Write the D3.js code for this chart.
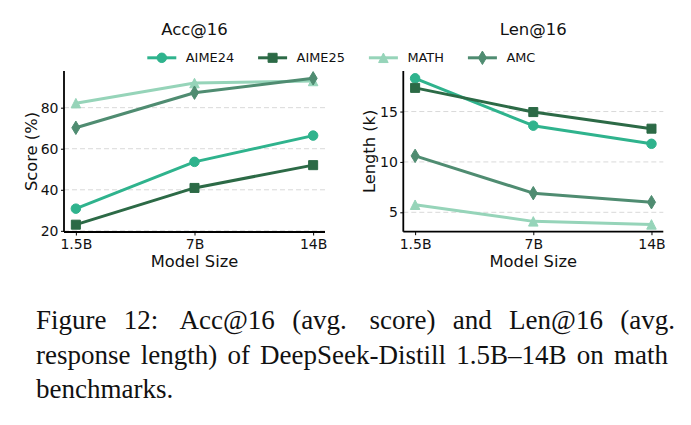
<!DOCTYPE html>
<html><head><meta charset="utf-8">
<script src="https://cdn.jsdelivr.net/npm/d3@7"></script>
<style>body{margin:0;background:#fff} svg{display:block}</style>
</head><body>
<svg id="c" width="691" height="425"></svg>
<script>
// ---- data ----
const models = ["1.5B", "7B", "14B"];
const seriesNames = ["AIME24", "AIME25", "MATH", "AMC"];
const accAIME24 = [30.8, 53.6, 66.4];
const accAIME25 = [23.0, 40.9, 52.0];
const accMATH   = [82.2, 92.0, 93.0];
const accAMC    = [70.2, 87.3, 94.3];
const lenAIME24 = [18.3, 13.6, 11.8];
const lenAIME25 = [17.35, 14.95, 13.3];
const lenMATH   = [5.75, 4.1, 3.8];
const lenAMC    = [10.6, 6.9, 6.0];
const accTicks = [20, 40, 60, 80];
const lenTicks = [5, 10, 15];
const captionLines = [
  "Figure 12:\u2009 Acc@16 (avg.\u2009 score) and Len@16 (avg.",
  "response length) of DeepSeek-Distill 1.5B\u201314B on math",
  "benchmarks."
];

const colors = {AIME24: "#2fb38d", AIME25: "#2c6a46", MATH: "#96d4b9", AMC: "#4f8c71"};
const shapes = {AIME24: "circle", AIME25: "square", MATH: "triangle", AMC: "diamond"};
const MS = 9.5;

function markerPath(shape) {
  const h = MS / 2;
  if (shape === "circle") return d3.arc()({innerRadius: 0, outerRadius: h, startAngle: 0, endAngle: 2 * Math.PI});
  if (shape === "square") { const s = h * 0.95; return `M${-s},${-s}H${s}V${s}H${-s}Z`; }
  if (shape === "triangle") return `M0,${-h}L${h},${h}L${-h},${h}Z`;
  if (shape === "diamond") { const w = 0.85 * h, t = 1.414 * h; return `M0,${-t}L${w},0L0,${t}L${-w},0Z`; }
}

const svg = d3.select("#c");
const font = "DejaVu Sans, Verdana, sans-serif";

function panel(opts) {
  const {x0, x1, y0, y1, series, ticks, title, ylabel, ylabelX, tickFmt} = opts;
  const all = series.flatMap(s => s.values);
  const mn = d3.min(all), mx = d3.max(all), pad = (mx - mn) * 0.05;
  const x = d3.scaleLinear().domain([-0.1, 2.1]).range([x0, x1]);
  const y = d3.scaleLinear().domain([mn - pad, mx + pad]).range([y1, y0]);
  const g = svg.append("g");

  // grid
  g.append("g").selectAll("line").data(ticks).join("line")
    .attr("x1", x0).attr("x2", x1)
    .attr("y1", d => y(d)).attr("y2", d => y(d))
    .attr("stroke", "#d9d9d9").attr("stroke-width", 1).attr("stroke-dasharray", "5,3");

  // axes
  const ax = g.append("g").attr("transform", `translate(0,${y1})`)
    .call(d3.axisBottom(x).tickValues([0, 1, 2]).tickFormat(i => models[i]).tickSize(3.5).tickPadding(3.5));
  const ay = g.append("g").attr("transform", `translate(${x0},0)`)
    .call(d3.axisLeft(y).tickValues(ticks).tickFormat(tickFmt).tickSize(3).tickPadding(2.5));
  [ax, ay].forEach(a => {
    a.selectAll(".domain").remove();
    a.selectAll("text").attr("font-family", font).attr("font-size", 14).attr("fill", "#111");
    a.selectAll(".tick line").attr("stroke", "#000").attr("stroke-width", 1);
  });
  g.append("line").attr("x1", x0).attr("x2", x1).attr("y1", y1).attr("y2", y1).attr("stroke", "#000").attr("stroke-width", 1.8);
  g.append("line").attr("x1", x0).attr("x2", x0).attr("y1", y0).attr("y2", y1).attr("stroke", "#000").attr("stroke-width", 1.8);

  // series
  const line = d3.line().x((d, i) => x(i)).y(d => y(d));
  series.forEach(s => {
    const sg = g.append("g");
    sg.append("path").attr("d", line(s.values)).attr("fill", "none")
      .attr("stroke", colors[s.name]).attr("stroke-width", 3).attr("stroke-linejoin", "round");
    sg.selectAll("path.m").data(s.values).join("path").attr("class", "m")
      .attr("d", markerPath(shapes[s.name]))
      .attr("transform", (d, i) => `translate(${x(i)},${y(d)})`)
      .attr("fill", colors[s.name]).attr("stroke", colors[s.name]).attr("stroke-width", 1);
  });

  // labels
  g.append("text").attr("x", (x0 + x1) / 2).attr("y", 35).attr("text-anchor", "middle")
    .attr("font-family", font).attr("font-size", 16.5).attr("fill", "#111").text(title);
  g.append("text").attr("x", (x0 + x1) / 2).attr("y", 266.5).attr("text-anchor", "middle")
    .attr("font-family", font).attr("font-size", 16.3).attr("fill", "#111").text("Model Size");
  g.append("text").attr("transform", `translate(${ylabelX},${(y0 + y1) / 2}) rotate(-90)`)
    .attr("text-anchor", "middle").attr("font-family", font).attr("font-size", 16.3).attr("fill", "#111").text(ylabel);
}

panel({x0: 64, x1: 325, y0: 71, y1: 232, title: "Acc@16", ylabel: "Score (%)", ylabelX: 36.5,
  ticks: accTicks, tickFmt: d3.format("d"),
  series: [{name: "AIME24", values: accAIME24}, {name: "AIME25", values: accAIME25},
           {name: "MATH", values: accMATH}, {name: "AMC", values: accAMC}]});
panel({x0: 403.3, x1: 663.3, y0: 71, y1: 231.7, title: "Len@16", ylabel: "Length (k)", ylabelX: 374.5,
  ticks: lenTicks, tickFmt: d3.format("d"),
  series: [{name: "AIME24", values: lenAIME24}, {name: "AIME25", values: lenAIME25},
           {name: "MATH", values: lenMATH}, {name: "AMC", values: lenAMC}]});

// legend
const lg = svg.append("g");
let lx = 147.3; const ly = 57.8;
seriesNames.forEach(n => {
  lg.append("line").attr("x1", lx).attr("x2", lx + 29).attr("y1", ly).attr("y2", ly)
    .attr("stroke", colors[n]).attr("stroke-width", 3);
  lg.append("path").attr("d", markerPath(shapes[n])).attr("transform", `translate(${lx + 14.5},${ly})`)
    .attr("fill", colors[n]).attr("stroke", colors[n]).attr("stroke-width", 1);
  const t = lg.append("text").attr("x", lx + 38.5).attr("y", ly).attr("dy", "0.36em")
    .attr("font-family", font).attr("font-size", 12.9).attr("fill", "#111").text(n);
  lx += 38.5 + t.node().getComputedTextLength() + 24;
});

// caption
const targets = [639, 632, null];
const baselines = [329, 363.5, 398];
captionLines.forEach((s, i) => {
  const t = svg.append("text").attr("x", 36).attr("y", baselines[i])
    .attr("font-family", "Liberation Serif, Times New Roman, serif").attr("font-size", 27)
    .attr("fill", "#111").style("white-space", "pre").text(s);
  if (targets[i]) {
    const w = t.node().getComputedTextLength();
    const nsp = (s.match(/ /g) || []).length;
    t.style("word-spacing", ((targets[i] - w) / nsp) + "px");
  }
});
</script>
</body></html>
